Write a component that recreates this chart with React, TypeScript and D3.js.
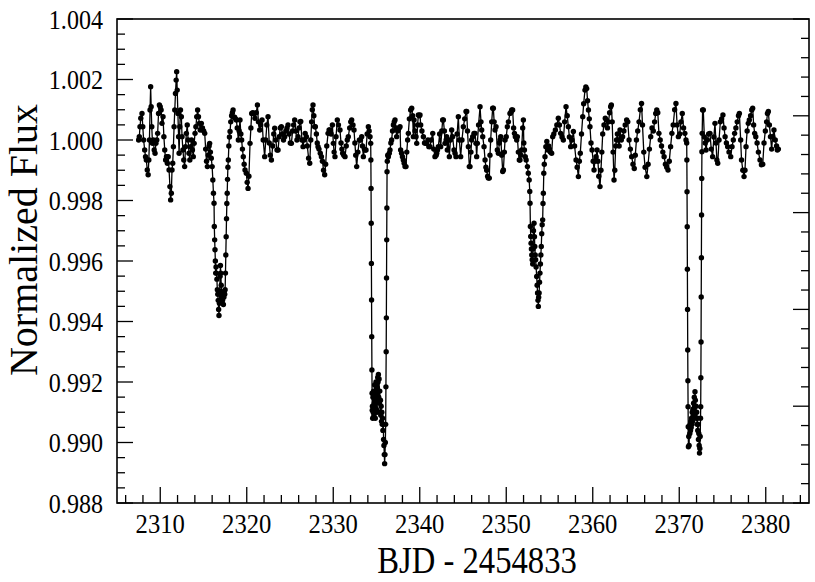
import React, { useEffect, useRef } from 'react';
import * as d3 from 'd3';

type Pt = [number, number];

// light curve pieces: [BJD - 2454833, normalized flux]
const quietA: Pt[] = [
  [2307.50, 1.00000], [2307.58, 1.00011], [2307.66, 1.00044], [2307.75, 1.00072], [2307.89, 1.00088],
  [2307.98, 1.00044], [2308.08, 1.00000], [2308.20, 0.99967], [2308.30, 0.99945], [2308.39, 0.99934],
  [2308.50, 0.99901], [2308.60, 0.99885], [2308.68, 0.99934], [2308.75, 1.00000], [2308.82, 1.00099],
  [2308.89, 1.00176], [2308.95, 1.00110], [2309.02, 1.00044], [2309.10, 0.99989], [2309.20, 1.00000],
  [2309.30, 0.99967], [2309.40, 0.99956], [2309.50, 0.99989], [2309.60, 1.00000], [2309.70, 1.00022],
  [2309.80, 1.00088], [2309.90, 1.00116], [2310.00, 1.00110], [2310.10, 1.00099], [2310.20, 1.00055],
  [2310.32, 1.00077], [2310.42, 1.00011], [2310.52, 0.99967], [2310.62, 0.99934], [2310.72, 0.99945],
  [2310.82, 0.99923], [2310.92, 0.99945], [2311.02, 0.99901], [2311.12, 0.99846], [2311.20, 0.99802],
  [2311.28, 0.99824], [2311.36, 0.99901], [2311.44, 0.99923], [2311.52, 0.99978], [2311.60, 1.00044],
  [2311.68, 1.00099], [2311.76, 1.00154], [2311.84, 1.00198], [2311.90, 1.00226], [2311.96, 1.00165],
  [2312.04, 1.00088], [2312.12, 1.00011], [2312.18, 0.99956], [2312.26, 1.00044], [2312.34, 1.00099],
  [2312.44, 1.00077], [2312.52, 1.00011], [2312.62, 0.99967], [2312.72, 0.99934], [2312.82, 0.99912],
  [2312.92, 0.99978], [2313.02, 1.00022], [2313.12, 1.00050], [2313.22, 1.00000], [2313.32, 0.99956],
  [2313.42, 0.99934], [2313.52, 0.99978], [2313.62, 1.00000], [2313.72, 0.99967], [2313.82, 0.99945],
  [2313.92, 0.99989], [2314.02, 1.00022], [2314.12, 1.00044], [2314.22, 1.00077], [2314.32, 1.00099],
  [2314.42, 1.00077], [2314.52, 1.00055], [2314.62, 1.00033], [2314.75, 1.00055], [2314.88, 1.00040],
  [2315.02, 1.00030], [2315.14, 1.00022], [2315.25, 0.99970], [2315.35, 0.99930], [2315.45, 0.99912],
  [2315.55, 0.99950], [2315.65, 0.99980], [2315.71, 0.99989], [2315.80, 0.99960], [2315.90, 0.99940],
];

const shallowA: Pt[] = [
  [2316.00, 0.99912], [2316.08, 0.99868], [2316.15, 0.99824], [2316.22, 0.99791], [2316.25, 0.99714],
  [2316.29, 0.99670], [2316.33, 0.99637], [2316.37, 0.99600], [2316.41, 0.99560], [2316.45, 0.99580],
  [2316.50, 0.99560], [2316.55, 0.99540], [2316.60, 0.99505], [2316.65, 0.99490], [2316.70, 0.99470],
  [2316.75, 0.99440], [2316.79, 0.99420], [2316.84, 0.99460], [2316.88, 0.99500], [2316.92, 0.99550],
  [2316.96, 0.99585], [2317.00, 0.99560], [2317.05, 0.99520], [2317.10, 0.99490], [2317.15, 0.99480],
  [2317.20, 0.99470], [2317.25, 0.99490], [2317.30, 0.99456], [2317.35, 0.99480], [2317.40, 0.99500],
  [2317.45, 0.99490], [2317.50, 0.99505], [2317.54, 0.99560], [2317.58, 0.99620], [2317.62, 0.99680],
  [2317.66, 0.99740], [2317.70, 0.99790], [2317.74, 0.99824], [2317.78, 0.99870], [2317.82, 0.99910],
  [2317.87, 0.99934], [2317.93, 0.99980], [2318.00, 1.00010], [2318.07, 1.00028], [2318.15, 1.00060],
  [2318.25, 1.00080], [2318.34, 1.00090], [2318.42, 1.00099], [2318.50, 1.00075],
];

const quietB: Pt[] = [
  [2318.60, 1.00075], [2318.70, 1.00070], [2318.80, 1.00066], [2318.90, 1.00040], [2319.03, 1.00000],
  [2319.12, 1.00030], [2319.22, 1.00066], [2319.32, 1.00020], [2319.41, 1.00000], [2319.50, 0.99970],
  [2319.60, 0.99945], [2319.70, 0.99920], [2319.80, 0.99901], [2319.95, 0.99890], [2320.05, 0.99860],
  [2320.15, 0.99840], [2320.25, 0.99880], [2320.38, 0.99989], [2320.48, 1.00040], [2320.57, 1.00088],
  [2320.70, 1.00090], [2320.84, 1.00088], [2320.95, 1.00072], [2321.10, 1.00090], [2321.23, 1.00116],
  [2321.35, 1.00060], [2321.50, 1.00033], [2321.62, 1.00050], [2321.77, 1.00066], [2321.90, 1.00000],
  [2322.07, 0.99945], [2322.20, 1.00000], [2322.32, 1.00050], [2322.46, 1.00077], [2322.60, 0.99990],
  [2322.72, 0.99950], [2322.85, 0.99934], [2323.00, 0.99980], [2323.12, 1.00020], [2323.23, 1.00039],
  [2323.35, 1.00000], [2323.50, 0.99967], [2323.62, 0.99967], [2323.75, 1.00011], [2323.88, 1.00040],
  [2324.00, 1.00044], [2324.12, 1.00020], [2324.25, 1.00000], [2324.39, 1.00011], [2324.52, 1.00030],
  [2324.65, 1.00040], [2324.77, 1.00050], [2324.90, 1.00020], [2325.03, 0.99990], [2325.16, 0.99989],
  [2325.30, 1.00030], [2325.42, 1.00050], [2325.54, 1.00066], [2325.66, 1.00030], [2325.80, 1.00000],
  [2325.93, 1.00011], [2326.05, 1.00040], [2326.15, 1.00060], [2326.24, 1.00061], [2326.38, 1.00000],
  [2326.51, 0.99978], [2326.62, 1.00000], [2326.75, 1.00022], [2326.89, 1.00011], [2327.00, 0.99980],
  [2327.15, 0.99940], [2327.28, 0.99923], [2327.40, 1.00000], [2327.50, 1.00060], [2327.58, 1.00100],
  [2327.66, 1.00116], [2327.76, 1.00080], [2327.85, 1.00044], [2327.93, 1.00044], [2328.05, 1.00020],
  [2328.15, 0.99990], [2328.24, 0.99978], [2328.35, 0.99970], [2328.50, 0.99956], [2328.63, 0.99945],
  [2328.75, 0.99930], [2328.88, 0.99900], [2329.01, 0.99885], [2329.12, 0.99920], [2329.25, 0.99980],
  [2329.40, 1.00022], [2329.52, 1.00033], [2329.62, 1.00033], [2329.75, 1.00020], [2329.90, 1.00050],
  [2330.01, 0.99989], [2330.10, 0.99960], [2330.20, 0.99945], [2330.32, 1.00011], [2330.47, 1.00066],
  [2330.60, 1.00050], [2330.78, 1.00033], [2330.90, 0.99990], [2331.00, 0.99970], [2331.09, 0.99956],
  [2331.22, 0.99950], [2331.36, 0.99945], [2331.50, 0.99980], [2331.62, 1.00000], [2331.74, 1.00011],
  [2331.90, 1.00040], [2332.02, 1.00060], [2332.13, 1.00066], [2332.28, 1.00050], [2332.40, 1.00033],
  [2332.50, 0.99990], [2332.60, 0.99950], [2332.71, 0.99912], [2332.85, 0.99960], [2333.02, 1.00000],
  [2333.15, 1.00000], [2333.29, 1.00011], [2333.38, 0.99980], [2333.48, 0.99945], [2333.60, 0.99970],
  [2333.70, 0.99967], [2333.79, 0.99967], [2333.92, 1.00020], [2334.06, 1.00044], [2334.15, 1.00030],
  [2334.25, 1.00011],
];

const deepA: Pt[] = [
  [2334.33, 0.99989], [2334.35, 0.99934], [2334.37, 0.99840], [2334.39, 0.99725], [2334.41, 0.99592],
  [2334.43, 0.99471], [2334.45, 0.99350], [2334.47, 0.99240], [2334.49, 0.99163], [2334.51, 0.99107],
  [2334.53, 0.99120], [2334.56, 0.99080], [2334.59, 0.99150], [2334.62, 0.99100], [2334.66, 0.99170],
  [2334.70, 0.99090], [2334.74, 0.99130], [2334.78, 0.99190], [2334.82, 0.99120], [2334.86, 0.99080],
  [2334.90, 0.99140], [2334.94, 0.99200], [2334.98, 0.99110], [2335.02, 0.99160], [2335.06, 0.99100],
  [2335.10, 0.99180], [2335.14, 0.99215], [2335.18, 0.99200], [2335.22, 0.99225], [2335.26, 0.99150],
  [2335.30, 0.99210], [2335.34, 0.99130], [2335.38, 0.99170], [2335.42, 0.99100], [2335.46, 0.99140],
  [2335.50, 0.99090], [2335.54, 0.99120], [2335.58, 0.99070], [2335.62, 0.99100], [2335.66, 0.99060],
  [2335.70, 0.99080], [2335.74, 0.99040], [2335.78, 0.99060], [2335.82, 0.99010], [2335.86, 0.98990],
  [2335.90, 0.98960], [2335.94, 0.98930], [2335.98, 0.98960], [2336.02, 0.99000], [2336.06, 0.99060],
  [2336.09, 0.99184], [2336.12, 0.99300], [2336.14, 0.99412], [2336.16, 0.99544], [2336.18, 0.99670],
  [2336.20, 0.99775], [2336.22, 0.99895], [2336.25, 0.99930], [2336.30, 0.99950],
];

const quietC: Pt[] = [
  [2336.37, 0.99945], [2336.48, 0.99956], [2336.56, 0.99967], [2336.66, 0.99990], [2336.75, 1.00000],
  [2336.85, 1.00030], [2336.95, 1.00050], [2337.05, 1.00060], [2337.14, 1.00066], [2337.25, 1.00040],
  [2337.33, 1.00011], [2337.45, 1.00030], [2337.52, 1.00033], [2337.62, 1.00040], [2337.72, 1.00044],
  [2337.79, 0.99967], [2337.90, 0.99956], [2338.00, 0.99945], [2338.10, 0.99934], [2338.20, 0.99923],
  [2338.30, 0.99912], [2338.41, 0.99912], [2338.50, 0.99960], [2338.60, 1.00000], [2338.68, 1.00022],
  [2338.80, 1.00070], [2338.95, 1.00099], [2339.07, 1.00105], [2339.18, 1.00080], [2339.26, 1.00011],
  [2339.34, 1.00066], [2339.45, 1.00030], [2339.57, 1.00011], [2339.65, 0.99989], [2339.75, 1.00050],
  [2339.84, 1.00083], [2339.95, 1.00080], [2340.03, 1.00083], [2340.11, 1.00050], [2340.25, 1.00030],
  [2340.42, 1.00011], [2340.55, 0.99990], [2340.70, 0.99989], [2340.80, 0.99989], [2340.95, 1.00000],
  [2341.05, 0.99978], [2341.19, 0.99978], [2341.32, 1.00000], [2341.50, 1.00022], [2341.62, 0.99970],
  [2341.76, 0.99945], [2341.90, 0.99950], [2341.96, 0.99956], [2342.05, 0.99967], [2342.15, 0.99978],
  [2342.30, 1.00020], [2342.42, 0.99978], [2342.55, 1.00030], [2342.65, 1.00066], [2342.73, 1.00066],
  [2342.85, 1.00030], [2342.92, 0.99989], [2343.05, 1.00000], [2343.11, 1.00011], [2343.19, 0.99967],
  [2343.30, 1.00000], [2343.42, 0.99945], [2343.55, 1.00000], [2343.69, 1.00033], [2343.80, 1.00011],
  [2343.96, 0.99967], [2344.08, 0.99956], [2344.19, 0.99945], [2344.32, 1.00020], [2344.46, 1.00077],
  [2344.58, 1.00000], [2344.73, 0.99945], [2344.88, 1.00000], [2345.04, 1.00044], [2345.20, 1.00070],
  [2345.35, 1.00094], [2345.43, 1.00094], [2345.52, 1.00030], [2345.62, 0.99978], [2345.73, 0.99912],
  [2345.81, 0.99912], [2345.92, 0.99960], [2346.00, 1.00000], [2346.12, 1.00011], [2346.27, 1.00022],
  [2346.39, 1.00022], [2346.50, 0.99989], [2346.58, 0.99945], [2346.66, 0.99989], [2346.80, 1.00050],
  [2346.97, 1.00110], [2347.08, 1.00060], [2347.16, 1.00033], [2347.28, 1.00011], [2347.43, 0.99978],
  [2347.55, 0.99934], [2347.65, 0.99910], [2347.74, 0.99900], [2347.85, 0.99880], [2347.93, 0.99874],
  [2348.04, 0.99874], [2348.12, 0.99950], [2348.20, 1.00000], [2348.32, 1.00060], [2348.43, 1.00105],
  [2348.51, 1.00105], [2348.60, 1.00060], [2348.70, 1.00033], [2348.82, 1.00044], [2348.97, 0.99967],
  [2349.09, 0.99956], [2349.20, 0.99990], [2349.28, 1.00000], [2349.36, 1.00011], [2349.48, 0.99950],
  [2349.59, 0.99896], [2349.67, 0.99901], [2349.78, 0.99960], [2349.86, 1.00000], [2350.00, 1.00011],
  [2350.13, 1.00044], [2350.25, 1.00060], [2350.43, 1.00088], [2350.55, 1.00092], [2350.63, 1.00099],
  [2350.74, 1.00099], [2350.85, 1.00040], [2350.95, 1.00022], [2351.05, 1.00011], [2351.21, 1.00000],
  [2351.28, 1.00011], [2351.40, 0.99960], [2351.51, 0.99934], [2351.59, 0.99934], [2351.70, 0.99950],
  [2351.78, 0.99967], [2351.90, 1.00040], [2351.98, 1.00066], [2352.03, 0.99990],
];

const shallowB: Pt[] = [
  [2352.10, 0.99967], [2352.20, 0.99945], [2352.30, 0.99934], [2352.45, 0.99912], [2352.55, 0.99890],
  [2352.65, 0.99868], [2352.72, 0.99830], [2352.75, 0.99791], [2352.79, 0.99714], [2352.83, 0.99681],
  [2352.87, 0.99659], [2352.91, 0.99640], [2352.95, 0.99620], [2353.00, 0.99604], [2353.06, 0.99590],
  [2353.10, 0.99640], [2353.15, 0.99700], [2353.21, 0.99725], [2353.26, 0.99680], [2353.30, 0.99648],
  [2353.35, 0.99620], [2353.40, 0.99604], [2353.45, 0.99580], [2353.52, 0.99549], [2353.57, 0.99520],
  [2353.62, 0.99494], [2353.67, 0.99470], [2353.71, 0.99450], [2353.75, 0.99480], [2353.80, 0.99494],
  [2353.85, 0.99530], [2353.90, 0.99560], [2353.95, 0.99590], [2354.00, 0.99620], [2354.05, 0.99648],
  [2354.10, 0.99690], [2354.15, 0.99720], [2354.21, 0.99736], [2354.25, 0.99790], [2354.29, 0.99824],
  [2354.34, 0.99890], [2354.40, 0.99920],
];

const quietD: Pt[] = [
  [2354.48, 0.99945], [2354.58, 0.99978], [2354.69, 0.99995], [2354.80, 0.99967], [2354.90, 0.99980],
  [2355.00, 0.99970], [2355.10, 0.99960], [2355.25, 0.99956], [2355.37, 1.00011], [2355.50, 1.00020],
  [2355.68, 1.00033], [2355.85, 1.00050], [2356.02, 1.00072], [2356.15, 1.00050], [2356.29, 1.00022],
  [2356.45, 1.00010], [2356.60, 1.00000], [2356.75, 1.00060], [2356.91, 1.00110], [2357.05, 1.00080],
  [2357.18, 1.00044], [2357.30, 1.00010], [2357.45, 0.99978], [2357.60, 1.00000], [2357.76, 1.00028],
  [2357.90, 0.99980], [2358.07, 0.99934], [2358.20, 0.99910], [2358.34, 0.99879], [2358.45, 0.99930],
  [2358.56, 0.99956], [2358.70, 1.00020], [2358.84, 1.00077], [2358.95, 1.00120], [2359.10, 1.00165],
  [2359.20, 1.00175], [2359.30, 1.00170], [2359.40, 1.00130], [2359.50, 1.00099], [2359.60, 1.00070],
  [2359.68, 1.00044], [2359.80, 0.99990], [2359.92, 0.99967], [2360.05, 0.99930], [2360.15, 0.99901],
  [2360.25, 0.99930], [2360.38, 0.99945], [2360.50, 0.99967], [2360.60, 0.99930], [2360.70, 0.99880],
  [2360.84, 0.99846], [2360.95, 0.99900], [2361.05, 0.99960], [2361.15, 1.00020], [2361.30, 1.00050],
  [2361.45, 1.00072], [2361.57, 1.00066], [2361.70, 1.00040], [2361.82, 1.00060], [2361.95, 1.00090],
  [2362.07, 1.00110], [2362.15, 1.00116], [2362.25, 1.00060], [2362.35, 0.99960], [2362.46, 0.99868],
  [2362.55, 0.99900], [2362.65, 0.99980], [2362.75, 1.00000], [2362.85, 1.00020], [2362.95, 1.00000],
  [2363.05, 0.99980], [2363.15, 1.00033], [2363.30, 1.00000], [2363.45, 1.00011], [2363.60, 1.00030],
  [2363.75, 1.00050], [2363.92, 1.00066], [2364.05, 1.00060], [2364.20, 1.00000], [2364.35, 0.99970],
  [2364.50, 0.99945], [2364.65, 0.99920], [2364.80, 0.99906], [2364.92, 0.99950], [2365.05, 1.00000],
  [2365.20, 1.00030], [2365.35, 1.00060], [2365.50, 1.00100], [2365.64, 1.00121], [2365.75, 1.00050],
  [2365.90, 0.99960], [2366.05, 0.99910], [2366.25, 0.99879], [2366.40, 0.99920], [2366.55, 0.99970],
  [2366.70, 1.00011], [2366.85, 1.00040], [2367.00, 1.00030], [2367.15, 1.00060], [2367.28, 1.00088],
  [2367.40, 1.00099], [2367.52, 1.00090], [2367.65, 1.00022], [2367.80, 1.00000], [2367.95, 0.99980],
  [2368.10, 0.99960], [2368.25, 0.99945], [2368.40, 0.99920], [2368.55, 0.99910], [2368.70, 0.99901],
  [2368.85, 0.99930], [2369.00, 0.99978], [2369.15, 1.00022], [2369.30, 1.00050], [2369.47, 1.00100],
  [2369.62, 1.00121], [2369.75, 1.00050], [2369.90, 1.00011], [2370.05, 1.00020], [2370.20, 1.00060],
  [2370.35, 1.00088], [2370.50, 1.00040], [2370.65, 1.00022], [2370.78, 1.00000],
];

const deepB: Pt[] = [
  [2370.86, 0.99990], [2370.88, 0.99934], [2370.90, 0.99829], [2370.92, 0.99713], [2370.94, 0.99573],
  [2370.96, 0.99440], [2370.98, 0.99306], [2371.00, 0.99204], [2371.02, 0.99118], [2371.04, 0.99052],
  [2371.06, 0.98986], [2371.10, 0.99020], [2371.14, 0.98990], [2371.18, 0.99050], [2371.22, 0.99030],
  [2371.26, 0.99060], [2371.30, 0.99040], [2371.34, 0.99070], [2371.38, 0.99050], [2371.42, 0.99080],
  [2371.46, 0.99060], [2371.50, 0.99100], [2371.54, 0.99070], [2371.58, 0.99110], [2371.62, 0.99090],
  [2371.66, 0.99130], [2371.70, 0.99100], [2371.74, 0.99150], [2371.78, 0.99120], [2371.82, 0.99168],
  [2371.86, 0.99140], [2371.90, 0.99100], [2371.94, 0.99120], [2371.98, 0.99080], [2372.02, 0.99100],
  [2372.06, 0.99060], [2372.10, 0.99080], [2372.14, 0.99040], [2372.18, 0.99060], [2372.22, 0.99010],
  [2372.26, 0.99030], [2372.30, 0.98990], [2372.34, 0.98965], [2372.38, 0.98980], [2372.42, 0.99020],
  [2372.46, 0.99080], [2372.48, 0.99118], [2372.50, 0.99214], [2372.52, 0.99332], [2372.54, 0.99481],
  [2372.56, 0.99611], [2372.58, 0.99752], [2372.60, 0.99873], [2372.62, 0.99961], [2372.65, 1.00022],
  [2372.70, 1.00099],
];

const quietE: Pt[] = [
  [2372.78, 1.00099], [2372.90, 1.00010], [2373.00, 0.99990], [2373.10, 0.99967], [2373.25, 1.00000],
  [2373.40, 1.00020], [2373.55, 1.00022], [2373.70, 0.99970], [2373.86, 0.99945], [2374.00, 1.00010],
  [2374.13, 1.00055], [2374.25, 0.99990], [2374.35, 0.99934], [2374.45, 0.99923], [2374.60, 1.00000],
  [2374.75, 1.00060], [2374.90, 1.00070], [2375.05, 1.00083], [2375.18, 1.00040], [2375.30, 1.00011],
  [2375.45, 0.99990], [2375.60, 0.99978], [2375.75, 0.99960], [2375.95, 0.99945], [2376.10, 0.99978],
  [2376.25, 1.00000], [2376.40, 1.00022], [2376.55, 1.00040], [2376.70, 1.00060], [2376.85, 1.00080],
  [2376.95, 1.00088], [2377.10, 1.00000], [2377.20, 0.99934], [2377.35, 0.99900], [2377.49, 0.99879],
  [2377.60, 0.99900], [2377.72, 0.99978], [2377.85, 1.00030], [2377.98, 1.00055], [2378.10, 1.00066],
  [2378.25, 1.00080], [2378.38, 1.00099], [2378.49, 1.00105], [2378.60, 1.00050], [2378.72, 1.00022],
  [2378.85, 1.00011], [2379.00, 0.99990], [2379.15, 0.99960], [2379.34, 0.99934], [2379.50, 0.99918],
  [2379.65, 0.99920], [2379.80, 0.99990], [2379.95, 1.00030], [2380.10, 1.00060], [2380.20, 1.00088],
  [2380.30, 1.00094], [2380.42, 1.00050], [2380.55, 1.00011], [2380.68, 0.99970], [2380.80, 1.00011],
  [2380.95, 1.00033], [2381.10, 1.00000], [2381.25, 0.99980], [2381.34, 0.99967], [2381.46, 0.99970],
];

const xTickValues = [2310, 2320, 2330, 2340, 2350, 2360, 2370, 2380];
const yTickValues = [0.988, 0.990, 0.992, 0.994, 0.996, 0.998, 1.000, 1.002, 1.004];
const xTitle = 'BJD - 2454833';
const yTitle = 'Normalized Flux';

const W = 815;
const H = 582;
const margin = { top: 19, right: 6, bottom: 79, left: 117 };
const FONT = '"Liberation Serif", "Times New Roman", Times, serif';

const LightCurve = () => {
  const ref = useRef<SVGSVGElement | null>(null);

  useEffect(() => {
    if (!ref.current) return;
    const svg = d3.select(ref.current);
    svg.selectAll('*').remove();

    const data: Pt[] = [...quietA, ...shallowA, ...quietB, ...deepA, ...quietC, ...shallowB, ...quietD, ...deepB, ...quietE];

    const x0 = margin.left, x1 = W - margin.right;
    const y0 = H - margin.bottom, y1 = margin.top;

    const x = d3.scaleLinear().domain([2305, 2385]).range([x0, x1]);
    const y = d3.scaleLinear().domain([0.988, 1.004]).range([y0, y1]);
    // right-hand frame carries its own evenly spaced tick set
    const yRight = d3.scaleLinear().domain([0, 5]).range([y0, y1]);

    const g = svg.append('g');

    // minor + major ticks, pointing inward
    const major = 16, minor = 8;
    x.ticks(40).forEach(v => {
      const isMajor = Math.abs(v % 10) < 1e-6;
      g.append('line')
        .attr('x1', x(v)).attr('x2', x(v))
        .attr('y1', y0).attr('y2', y0 - (isMajor ? major : minor))
        .attr('stroke', '#000').attr('stroke-width', 1.3);
    });
    y.ticks(32).forEach(v => {
      const k = Math.round(v * 2000);
      const isMajor = k % 4 === 0;
      g.append('line')
        .attr('x1', x0).attr('x2', x0 + (isMajor ? major : minor))
        .attr('y1', y(v)).attr('y2', y(v))
        .attr('stroke', '#000').attr('stroke-width', 1.3);
    });
    yRight.ticks(25).forEach(v => {
      const isMajor = Math.abs(v - Math.round(v)) < 1e-6;
      g.append('line')
        .attr('x1', x1).attr('x2', x1 - (isMajor ? major : minor))
        .attr('y1', yRight(v)).attr('y2', yRight(v))
        .attr('stroke', '#000').attr('stroke-width', 1.3);
    });

    // frame
    g.append('rect')
      .attr('x', x0).attr('y', y1)
      .attr('width', x1 - x0).attr('height', y0 - y1)
      .attr('fill', 'none').attr('stroke', '#000').attr('stroke-width', 1.6);

    // tick labels (the original face is a narrow Times, so squeeze horizontally)
    g.selectAll('.xl').data(xTickValues).enter().append('text')
      .attr('transform', d => `translate(${x(d)},533) scale(0.88,1)`)
      .attr('text-anchor', 'middle')
      .attr('font-family', FONT).attr('font-size', 28)
      .text(d => String(d));

    g.selectAll('.yl').data(yTickValues).enter().append('text')
      .attr('transform', d => `translate(103,${y(d)}) scale(0.86,1)`)
      .attr('dy', '0.35em')
      .attr('text-anchor', 'end')
      .attr('font-family', FONT).attr('font-size', 28)
      .text(d => d3.format('.3f')(d));

    // axis titles
    g.append('text')
      .attr('transform', 'translate(477,573) scale(0.86,1)')
      .attr('text-anchor', 'middle')
      .attr('font-family', FONT).attr('font-size', 38)
      .text(xTitle);

    g.append('text')
      .attr('transform', 'translate(37,240) rotate(-90)')
      .attr('text-anchor', 'middle')
      .attr('font-family', FONT).attr('font-size', 40)
      .text(yTitle);

    // connecting line and points
    const line = d3.line<Pt>().x(d => x(d[0])).y(d => y(d[1]));
    g.append('path')
      .datum(data)
      .attr('d', line)
      .attr('fill', 'none')
      .attr('stroke', '#000')
      .attr('stroke-width', 1.3);

    g.selectAll('.pt').data(data).enter().append('circle')
      .attr('cx', d => x(d[0]))
      .attr('cy', d => y(d[1]))
      .attr('r', 2.7)
      .attr('fill', '#000');
  }, []);

  return <svg ref={ref} width={W} height={H} style={{ position: 'absolute', left: 0, top: 0, background: '#fff' }} />;
};

export default function App() {
  return <LightCurve />;
}
